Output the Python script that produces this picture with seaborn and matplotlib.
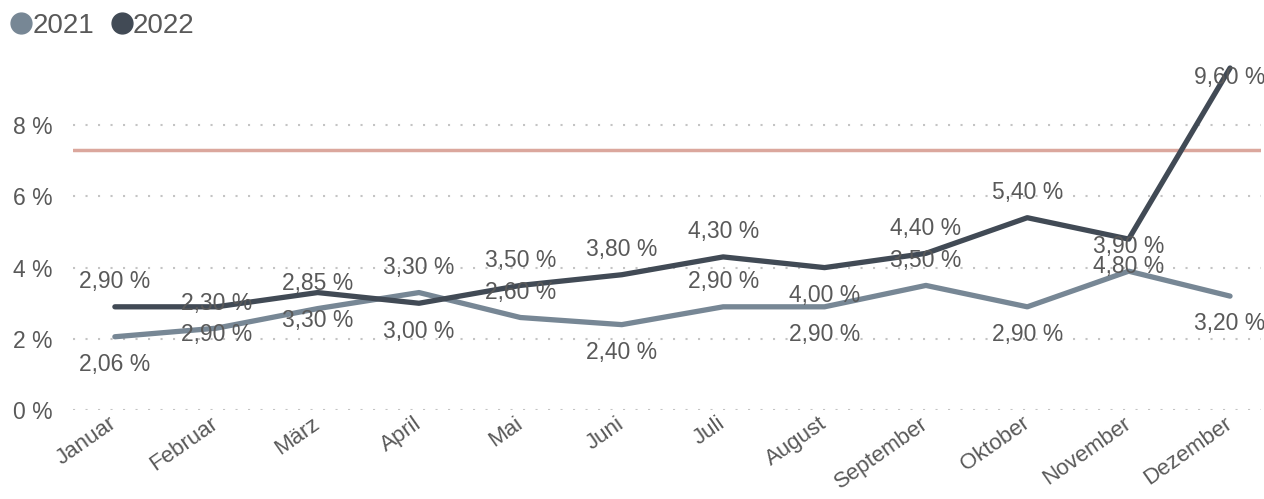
import matplotlib.pyplot as plt
import matplotlib.lines as mlines
import matplotlib.transforms as mtransforms
import seaborn as sns
import pandas as pd

months = ["Januar", "Februar", "März", "April", "Mai", "Juni", "Juli",
          "August", "September", "Oktober", "November", "Dezember"]
values_2021 = [2.06, 2.30, 2.85, 3.30, 2.60, 2.40, 2.90, 2.90, 3.50, 2.90, 3.90, 3.20]
values_2022 = [2.90, 2.90, 3.30, 3.00, 3.50, 3.80, 4.30, 4.00, 4.40, 5.40, 4.80, 9.60]
target = 7.3

# label placement per point: o = over, u = under, i = just inside (top)
place_2021 = ["u", "o", "o", "o", "o", "u", "o", "u", "o", "u", "o", "u"]
place_2022 = ["o", "u", "u", "u", "o", "o", "o", "u", "o", "o", "u", "i"]

colors = {"2021": "#778795", "2022": "#414a55"}
text_color = "#595959"

sns.set_style("white")
plt.rcParams["font.family"] = ["Liberation Sans", "DejaVu Sans"]

df = pd.concat([
    pd.DataFrame({"Monat": months, "Wert": values_2021, "Jahr": "2021"}),
    pd.DataFrame({"Monat": months, "Wert": values_2022, "Jahr": "2022"}),
])

fig = plt.figure(figsize=(12.64, 4.99), dpi=100)
ax = fig.add_axes([0.058, 0.178, 0.94, 0.70])

sns.lineplot(data=df, x="Monat", y="Wert", hue="Jahr", palette=colors,
             linewidth=3.8, sort=False, legend=False, ax=ax)
ax.axhline(target, color="#dba79d", linewidth=2.5, zorder=1)

offsets = {"o": 18, "u": -20, "i": -7}
for year, vals, places in [("2021", values_2021, place_2021),
                           ("2022", values_2022, place_2022)]:
    for i, (v, p) in enumerate(zip(vals, places)):
        ax.annotate(f"{v:.2f} %".replace(".", ","), (i, v),
                    xytext=(0, offsets[p]), textcoords="offset points",
                    ha="center", va="center", fontsize=16.5, color=text_color)

ax.set_xlim(-0.41, 11.31)
ax.set_ylim(0, 9.8)
ax.set_yticks([0, 2, 4, 6, 8])
ax.set_yticklabels([f"{t} %" for t in [0, 2, 4, 6, 8]])
ax.yaxis.grid(True, color="#c4c4c4", linestyle=(0, (1, 5)), linewidth=1.5)
ax.xaxis.grid(False)
ax.set_xlabel("")
ax.set_ylabel("")
sns.despine(ax=ax, left=True, bottom=True)
ax.tick_params(axis="both", length=0, labelsize=16.5, labelcolor=text_color)
ax.tick_params(axis="y", pad=15)
ax.tick_params(axis="x", labelsize=16, pad=2)
shift = mtransforms.ScaledTranslation(-6 / 100, 0, fig.dpi_scale_trans)
for lbl in ax.get_xticklabels():
    lbl.set_rotation(35)
    lbl.set_ha("right")
    lbl.set_rotation_mode("anchor")
    lbl.set_transform(lbl.get_transform() + shift)

handles = [mlines.Line2D([], [], linestyle="none", marker="o", markersize=15,
                         color=colors[y], label=y) for y in ["2021", "2022"]]
fig.legend(handles=handles, loc="upper left", bbox_to_anchor=(-0.014, 1.025),
           ncol=2, frameon=False, fontsize=20, labelcolor=text_color,
           handletextpad=-0.1, columnspacing=0.5, handlelength=1.0)

fig.savefig("out.png", dpi=100)
